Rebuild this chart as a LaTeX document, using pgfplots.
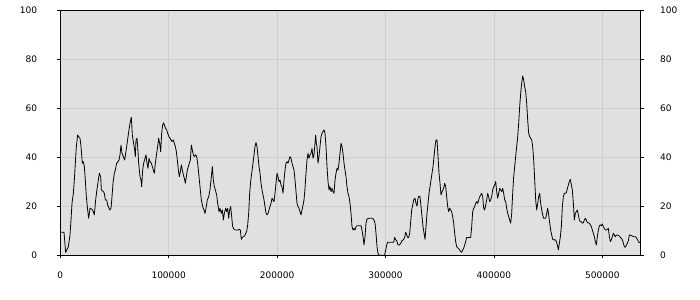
\documentclass[border=0pt]{standalone}
\usepackage{fontspec}
\setmainfont{DejaVu Sans}
\usepackage{pgfplots}
\pgfplotsset{compat=1.18}
\usepackage{pgfplotstable}
\definecolor{plotbg}{RGB}{224,224,224}
\definecolor{gridc}{RGB}{206,206,206}
\pgfplotstableread{
x y
0 9.4
3413 9.4
4950 1.2
7410 3.5
8948 8.3
9870 14.4
10793 21.2
12023 25.3
12945 30.7
13868 37.6
14790 44.4
16020 49.1
16943 48.4
18173 47.8
19095 44.4
20325 37.6
21248 38.2
22170 36.2
23093 30.7
24015 23.9
25245 18.5
26168 15.1
27398 19.2
29243 18.8
30473 17.8
31395 16.5
32625 22.6
33548 26.0
35085 30.7
36008 33.5
37238 32.1
37853 26.7
39698 26.0
40620 25.3
41543 22.6
42773 22.6
43695 20.5
44618 19.6
45540 18.5
46770 19.2
47693 23.9
48615 29.4
49845 33.5
50768 34.8
51998 37.6
53228 38.2
54150 38.9
55073 41.0
55995 45.0
56918 41.6
58148 40.3
59378 38.9
60300 41.6
61223 44.4
62453 48.4
63375 51.2
64298 53.9
65528 56.3
66450 49.1
67373 46.4
68603 43.0
69218 40.3
69833 47.1
70755 47.8
71370 44.4
72293 37.6
73523 32.1
74445 30.7
75060 28.0
75983 34.8
76905 37.6
78135 39.6
79058 41.0
79980 37.6
80903 35.5
81825 39.6
82748 38.2
83978 37.6
84900 36.2
85823 34.8
86745 33.5
87668 37.6
88898 41.6
89820 44.4
90743 47.8
91665 45.7
92588 42.3
93510 49.8
94433 53.2
95355 54.1
96278 52.8
97200 51.8
98123 51.2
99045 49.8
100275 48.4
101198 47.8
102120 47.1
103043 46.4
104273 47.1
105195 45.7
106118 44.4
107040 42.3
107963 38.9
108885 34.8
109808 32.1
110730 34.1
111653 36.9
112575 34.8
113498 32.8
114420 31.4
115343 29.4
116265 32.1
117188 34.8
118110 36.2
119033 37.6
119955 38.9
120878 45.0
121800 43.0
122723 41.0
123645 40.3
124875 41.0
125798 40.3
126720 37.6
127643 33.5
128873 28.0
130103 22.6
131333 19.9
132563 18.5
133485 17.1
134408 19.2
135638 22.6
136868 23.9
138098 26.7
139328 32.1
140250 36.2
141173 30.7
142095 28.0
143018 26.7
144248 24.6
145170 21.2
146400 17.8
147323 19.2
148553 17.1
149475 18.5
150398 14.4
151320 17.1
152550 19.2
153473 17.8
154395 19.2
155318 15.1
156240 18.5
157163 19.9
158085 15.8
159008 11.7
160238 10.6
161468 10.3
162698 10.3
163928 10.3
165158 10.6
166080 10.3
167003 6.5
167925 7.3
168848 7.6
170078 7.9
171000 9.0
171923 9.7
172845 12.4
173768 17.1
174690 25.3
175613 30.1
176535 33.5
177765 37.6
178688 41.0
179610 44.4
180533 46.0
181455 44.4
182378 40.3
183300 36.2
184223 33.5
185145 29.4
186068 26.7
186990 24.6
187913 22.6
188835 19.9
189758 17.1
190680 16.5
191603 17.1
192525 18.5
193448 19.9
194370 21.2
195293 23.3
196215 22.6
197138 21.9
198060 25.3
198983 29.4
199905 33.5
200828 32.1
201750 30.1
202673 30.7
203595 28.7
204518 28.0
205440 25.3
206363 30.7
207285 34.8
208208 37.6
209130 38.2
210053 37.6
210975 38.9
211898 40.3
212820 39.6
213743 37.6
214665 36.2
215588 34.8
216510 30.7
217433 26.0
218355 21.2
219278 19.9
220200 19.2
221123 17.8
222045 16.5
222968 18.5
223890 20.5
224813 22.6
225735 27.3
226658 33.5
227580 38.9
228503 41.6
229425 39.6
230348 41.0
231270 41.6
232193 43.7
233115 39.6
234038 41.0
234960 45.7
235575 49.1
236190 45.7
236805 44.4
237728 37.6
238650 40.3
239573 44.4
240495 48.4
241418 49.8
242340 50.5
243263 51.2
244185 49.8
245108 44.4
246030 36.2
246953 30.1
247875 26.7
248798 28.0
249720 26.0
250643 27.3
251565 26.0
252488 25.3
253410 30.7
254333 33.5
255255 35.5
256178 34.8
257100 37.6
258023 41.6
258945 45.7
259868 44.4
260790 41.6
261713 37.6
262635 34.8
263558 32.1
264480 28.0
265403 25.3
266325 23.9
267248 21.2
268170 17.1
269093 11.7
270015 10.3
270938 11.0
271860 10.3
272783 11.7
273705 12.1
274935 12.1
276165 12.1
277395 12.1
278318 10.3
279240 7.6
280163 4.2
281085 7.6
282008 13.1
282930 14.8
284468 15.1
286313 15.1
288158 15.1
289388 14.4
290310 13.1
291233 9.0
292155 3.5
293078 0.8
294000 0.1
294923 0.0
297998 0.0
299228 0.1
300150 2.2
301073 4.2
301995 5.3
304148 5.3
306300 5.3
307530 5.3
308453 7.3
309375 6.3
310298 6.0
311528 4.2
312758 4.2
313988 4.9
315218 6.0
316448 6.3
317678 7.3
318600 9.4
319523 8.3
320445 7.3
321368 7.3
322290 9.0
323213 13.7
324135 18.5
325058 20.5
325980 22.6
327210 23.3
328133 21.2
329055 20.1
329978 23.3
330900 24.2
331823 23.9
332745 19.9
333668 15.8
334590 11.7
335513 9.0
336435 6.5
337358 11.7
338280 17.1
339203 21.2
340125 25.3
341048 28.0
341970 30.7
342893 33.5
343815 36.2
344738 40.3
345660 44.4
346583 47.1
347505 47.1
348428 40.3
349350 33.5
350273 29.4
351195 24.6
352118 26.0
353040 26.7
353963 28.0
354578 29.4
355500 28.0
356423 23.9
357345 19.9
358268 17.8
359190 19.2
360113 18.5
361035 17.8
361958 15.8
362880 13.1
363803 9.0
364725 5.6
365648 3.5
366878 2.9
368108 2.4
369338 1.5
370260 1.2
371183 2.2
372105 2.9
373028 4.2
373950 5.6
374873 7.3
376718 7.3
378563 7.3
379485 11.7
380408 17.8
381330 19.2
382253 19.9
383175 21.2
384098 21.9
385020 21.2
385943 22.6
386865 23.9
387788 24.6
388710 25.3
389633 23.9
390555 19.2
391478 18.5
392400 20.5
393323 22.6
394245 25.3
395168 23.9
396090 21.9
397013 22.6
397935 23.9
398858 26.7
399780 28.0
400703 28.7
401625 30.1
402548 26.0
403470 23.3
404393 25.3
405315 27.3
406238 26.7
407160 26.0
408083 27.3
409005 25.3
409928 22.6
410850 21.9
411773 19.2
412695 17.1
413618 15.8
414540 14.4
415463 13.1
416385 17.1
417308 25.3
418230 32.1
419153 36.2
420075 40.3
420998 44.4
421920 48.4
422843 53.9
423765 60.7
424688 66.1
425610 70.2
426533 73.2
427455 71.6
428378 68.8
429300 66.8
430223 62.0
431145 55.2
432068 49.8
432990 48.4
433913 47.8
434835 47.1
435758 44.4
436680 38.9
437603 30.7
438525 22.6
439448 18.5
440370 21.2
441293 23.9
442215 25.3
443138 21.2
444060 18.5
444983 16.5
445905 15.1
446828 15.1
447750 15.1
448673 17.1
449595 19.2
450518 16.5
451440 13.1
452363 10.3
453285 8.3
454208 6.5
455438 6.3
456668 6.3
457590 5.6
458513 4.2
459435 2.2
460358 4.9
461280 7.6
462203 11.7
463125 19.9
464048 23.9
464970 25.3
465893 25.3
466815 25.6
467738 27.3
468660 28.7
469583 30.1
470505 31.0
471428 28.7
472350 26.7
473273 21.2
474195 14.4
475118 17.1
476040 17.8
476963 18.5
477885 16.5
478808 14.4
479730 13.7
480653 13.7
481575 13.1
482498 13.3
483420 14.4
484343 15.1
485265 14.4
486188 13.3
487110 13.3
488033 13.1
488955 12.4
489878 11.7
490800 10.3
491723 9.0
492645 7.6
493568 5.6
494490 4.2
495413 7.6
496335 10.3
497258 12.0
498180 12.4
499103 12.1
500025 12.8
500948 11.7
501870 11.0
502793 10.3
503715 10.3
504638 10.6
505560 11.0
506483 7.6
507405 5.6
508328 6.3
509250 7.6
510173 9.0
511095 8.3
512018 7.6
512940 8.3
513863 8.3
514785 8.0
515708 7.9
516630 7.3
517553 6.9
518475 6.3
519398 4.9
520320 3.5
521243 3.3
522165 4.2
523088 4.9
524010 6.0
524933 8.3
525855 8.2
526778 8.0
527700 7.9
528623 7.6
529545 7.6
530468 7.6
531390 7.3
532313 6.5
533235 5.6
534158 5.2
535080 5.3
}\series

\begin{document}
\begin{tikzpicture}
\begin{axis}[name=ax, at={(0,0)}, anchor=south west,
  scale only axis, width=580.4bp, height=245bp,
  xmin=0, xmax=535400, ymin=0, ymax=100,
  scaled x ticks=false, scaled y ticks=false,
  axis background/.style={fill=plotbg},
  grid=major, major grid style={gridc, line width=0.8bp},
  axis line style={black, line width=0.8bp},
  xtick={0,100000,200000,300000,400000,500000},
  xticklabels={0,100000,200000,300000,400000,500000},
  ytick={0,20,40,60,80,100},
  yticklabels={0,20,40,60,80,100},
  tick align=outside, major tick length=3bp,
  xtick pos=bottom, ytick pos=both,
  tick style={black, line width=0.8bp},
  /pgf/number format/assume math mode=true,
  ticklabel style={font=\fontsize{9bp}{10bp}\selectfont, inner sep=0pt},
  xticklabel style={anchor=north, yshift=-13.4bp},
  yticklabel style={anchor=east, xshift=-20bp},
  yticklabel pos=left,
]
\addplot[black, line width=0.8bp, line join=round] table[x=x,y=y]{\series};
\end{axis}
\begin{axis}[at={(ax.south west)}, anchor=south west,
  scale only axis, width=580.4bp, height=245bp,
  xmin=0, xmax=535400, ymin=0, ymax=100,
  scaled x ticks=false, scaled y ticks=false,
  hide x axis, axis line style={draw=none},
  ytick={0,20,40,60,80,100},
  yticklabels={0,20,40,60,80,100},
  ytick pos=right, yticklabel pos=right,
  major tick length=0pt, tick style={draw=none},
  /pgf/number format/assume math mode=true,
  ticklabel style={font=\fontsize{9bp}{10bp}\selectfont, inner sep=0pt},
  yticklabel style={anchor=west, xshift=19.3bp},
]
\end{axis}
\pgfresetboundingbox
\useasboundingbox ([xshift=-60.3bp,yshift=-44.7bp]ax.south west) rectangle ([xshift=59.3bp,yshift=10.3bp]ax.north east);
\end{tikzpicture}
\end{document}
